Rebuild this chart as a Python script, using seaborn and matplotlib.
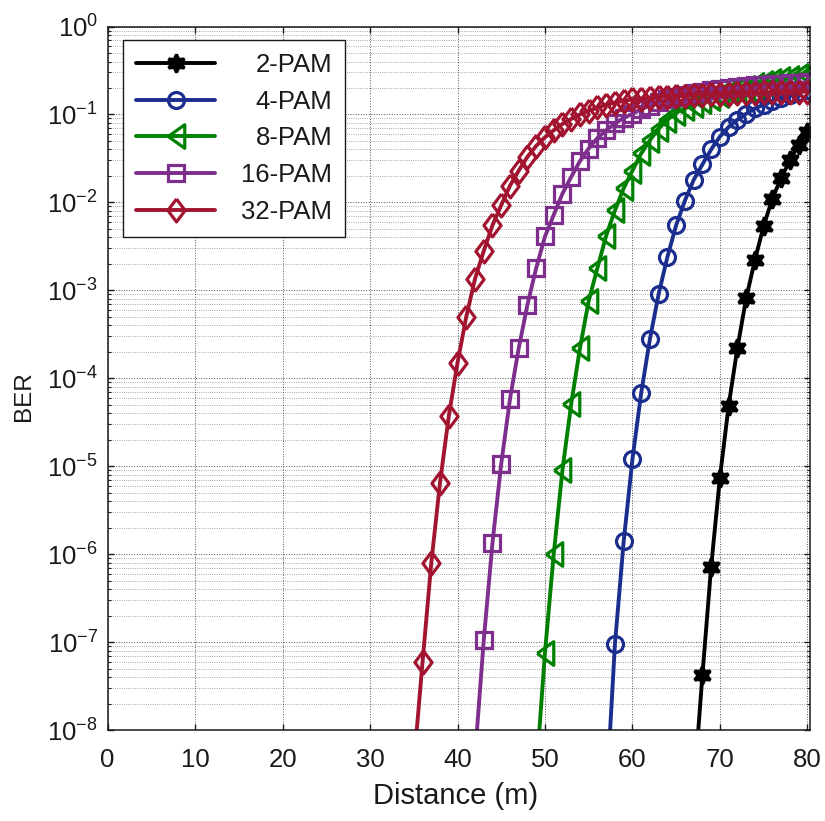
import numpy as np
import pandas as pd
import seaborn as sns
import matplotlib.pyplot as plt
from matplotlib.ticker import NullFormatter, LogLocator, MultipleLocator

# BER vs distance (1 m steps)
dist_2pam = list(range(67, 81))
ber_2pam = [2.0e-9, 4.2e-8, 7.2e-7, 7.4e-6, 4.9e-5, 2.2e-4, 8.1e-4, 2.2e-3,
            5.4e-3, 1.1e-2, 1.9e-2, 3.0e-2, 4.5e-2, 6.4e-2]

dist_4pam = list(range(57, 81))
ber_4pam = [1.6e-9, 9.5e-8, 1.4e-6, 1.2e-5, 6.8e-5, 2.8e-4, 9.1e-4, 2.4e-3,
            5.5e-3, 1.05e-2, 1.8e-2, 2.7e-2, 4.0e-2, 5.6e-2, 7.2e-2, 8.7e-2,
            0.102, 0.117, 0.129, 0.141, 0.155, 0.166, 0.178, 0.19]

dist_8pam = list(range(49, 81))
ber_8pam = [3.2e-9, 7.6e-8, 1.0e-6, 9.1e-6, 5.1e-5, 2.2e-4, 7.6e-4, 1.8e-3,
            4.2e-3, 8.1e-3, 1.45e-2, 2.3e-2, 3.6e-2, 5.1e-2, 6.9e-2, 8.7e-2,
            0.105, 0.117, 0.129, 0.141, 0.155, 0.166, 0.178, 0.19, 0.202,
            0.215, 0.228, 0.24, 0.252, 0.263, 0.273, 0.283]

dist_16pam = list(range(42, 81))
ber_16pam = [5.0e-9, 1.05e-7, 1.35e-6, 1.07e-5, 5.8e-5, 2.2e-4, 6.9e-4, 1.8e-3,
             4.1e-3, 7.2e-3, 1.26e-2, 1.95e-2, 2.95e-2, 4.1e-2, 5.4e-2, 6.6e-2,
             7.9e-2, 9.1e-2, 0.102, 0.115, 0.126, 0.138, 0.148, 0.158, 0.166,
             0.174, 0.182, 0.19, 0.195, 0.2, 0.204, 0.209, 0.214, 0.219,
             0.221, 0.224, 0.226, 0.229, 0.232]

dist_32pam = list(range(35, 81))
ber_32pam = [4.0e-9, 5.9e-8, 7.9e-7, 6.5e-6, 3.7e-5, 1.5e-4, 5.0e-4, 1.35e-3,
             2.8e-3, 5.5e-3, 9.3e-3, 1.55e-2, 2.3e-2, 3.3e-2, 4.4e-2, 5.5e-2,
             6.6e-2, 7.8e-2, 8.9e-2, 0.1, 0.11, 0.12, 0.129, 0.136, 0.143,
             0.148, 0.151, 0.155, 0.158, 0.16, 0.162, 0.164, 0.166, 0.168,
             0.17, 0.17, 0.172, 0.174, 0.174, 0.176, 0.178, 0.178, 0.18, 0.18,
             0.182, 0.182]

labels = ["2-PAM", "4-PAM", "8-PAM", "16-PAM", "32-PAM"]
colors = ["#000000", "#1B2E8E", "#008000", "#7E2F8E", "#A2142F"]
ber_ticks = [1e-8, 1e-7, 1e-6, 1e-5, 1e-4, 1e-3, 1e-2, 1e-1, 1e0]
tri_left = [(-0.7, 0), (0.7, -1), (0.7, 1), (-0.7, 0)]
diamond = [(0, 1), (0.75, 0), (0, -1), (-0.75, 0), (0, 1)]
markers = [(6, 1, 0), "o", tri_left, "s", diamond]
msizes = [13, 11.5, 17, 12, 16.5]
faces = ["#000000", "none", "none", "none", "none"]

sns.set_theme(style="ticks")
plt.rcParams['font.family'] = ['Liberation Sans', 'DejaVu Sans']
plt.rcParams['mathtext.default'] = 'regular'
plt.rcParams.update({'text.color': 'k', 'axes.labelcolor': 'k',
                     'xtick.color': 'k', 'ytick.color': 'k'})

fig = plt.figure(figsize=(8.25, 8.21), dpi=100)
ax = fig.add_axes([0.1305, 0.1108, 0.8513, 0.8569])

data = [(dist_2pam, ber_2pam), (dist_4pam, ber_4pam), (dist_8pam, ber_8pam),
        (dist_16pam, ber_16pam), (dist_32pam, ber_32pam)]
for (d, b), lab, c, m, ms, fc in zip(data, labels, colors, markers, msizes, faces):
    sns.lineplot(x=d, y=b, ax=ax, color=c, marker=m, markersize=ms,
                 mfc=fc, mec=c, mew=2.3, lw=2.8, label=lab, legend=False)

ax.set_yscale('log')
ax.set_xlim(0, 80.3)
ax.set_ylim(1e-8, 1)
ax.xaxis.set_major_locator(MultipleLocator(10))
ax.set_yticks(ber_ticks)
ax.yaxis.set_minor_locator(LogLocator(base=10, subs=np.arange(2, 10), numticks=100))
ax.yaxis.set_minor_formatter(NullFormatter())

ax.grid(True, which='major', color='k', ls=':', lw=0.7, alpha=0.75)
ax.grid(True, which='minor', axis='y', color='k', ls=':', lw=0.6, alpha=0.5)

ax.tick_params(which='both', direction='in', top=True, right=True, colors='k',
               labelsize=18.5)
ax.tick_params(which='major', length=4.5, width=1, pad=7)
ax.tick_params(axis='x', which='major', pad=13)
ax.tick_params(which='minor', length=2.5, width=0.8)
for s in ax.spines.values():
    s.set_color('k')
    s.set_linewidth(1.1)

ax.set_xlabel("Distance (m)", fontsize=21)
ax.set_ylabel("BER", fontsize=17.5)
ax.xaxis.set_label_coords(0.496, -0.074)
ax.yaxis.set_label_coords(-0.104, 0.474)

leg = ax.legend(loc='upper left', bbox_to_anchor=(0.0218, 0.981),
                borderaxespad=0, fontsize=18.5, handlelength=3.1,
                handletextpad=1.0, labelspacing=0.5, borderpad=0.5,
                fancybox=False, edgecolor='k', framealpha=1)
leg.get_frame().set_linewidth(1.0)

# right-align legend labels like the original
fig.canvas.draw()
texts = leg.get_texts()
widths = [t.get_window_extent().width for t in texts]
for t, w in zip(texts, widths):
    t.set_position((max(widths) - w, 0))

fig.savefig("out.png", dpi=100)
